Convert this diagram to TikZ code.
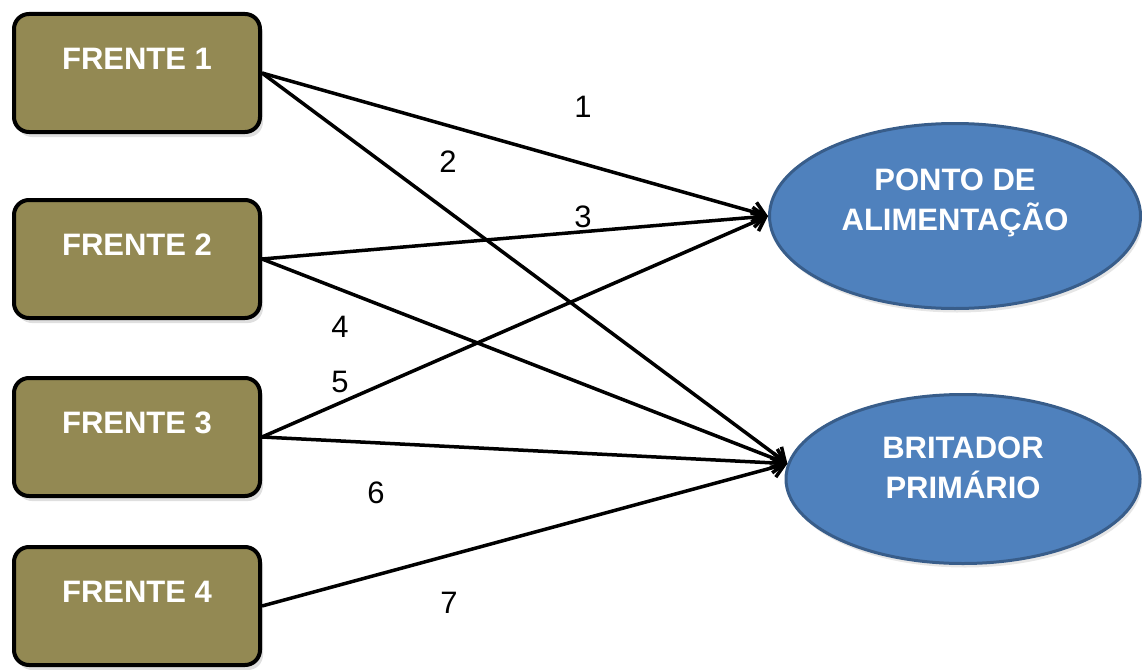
\documentclass[tikz,border=0pt]{standalone}
\usepackage{fontspec}
\setmainfont{Liberation Sans}
\usetikzlibrary{shapes.geometric,arrows.meta,shadows}
\definecolor{oliva}{RGB}{147,137,83}
\definecolor{azul}{RGB}{79,129,189}
\definecolor{azulborda}{RGB}{56,93,138}

\begin{document}
\begin{tikzpicture}[x=1pt,y=-1pt]
\tikzstyle{frente}=[rectangle,rounded corners=15pt,draw=black,line width=4pt,fill=oliva,minimum width=246pt,minimum height=118pt,inner sep=0pt,drop shadow={shadow xshift=3pt,shadow yshift=-5pt,opacity=0.25}]
\tikzstyle{destino}=[ellipse,draw=azulborda,line width=3pt,fill=azul,inner sep=0pt,drop shadow={shadow xshift=2pt,shadow yshift=-4pt,opacity=0.2}]
\tikzstyle{rotulo}=[text=white,font=\bfseries\fontsize{31}{40}\selectfont,align=center]
\tikzstyle{numero}=[font=\fontsize{31}{36}\selectfont]
\tikzstyle{seta}=[line width=3.5pt,-{Straight Barb[length=12pt,width=20pt]}]

\useasboundingbox (0,0) rectangle (1142,669);

%frentes on the left
\node[frente,label={[rotulo,yshift=14pt]center:FRENTE 1}] (f1) at (137,73) {};
\node[frente,label={[rotulo,yshift=14pt]center:FRENTE 2}] (f2) at (137,259) {};
\node[frente,label={[rotulo,yshift=14pt]center:FRENTE 3}] (f3) at (137,437) {};
\node[frente,label={[rotulo,yshift=14pt]center:FRENTE 4}] (f4) at (137,606) {};

%blue ellipses on the right
\node[destino,minimum width=371pt,minimum height=185pt,label={[rotulo,yshift=13pt]center:PONTO DE\\ALIMENTAÇÃO}] (ponto) at (955,216) {};
\node[destino,minimum width=354pt,minimum height=169pt,label={[rotulo,yshift=11pt]center:BRITADOR\\PRIMÁRIO}] (brit) at (963,479) {};

%arrows
\draw[seta] (f1.east) -- (ponto.west);
\draw[seta] (f1.east) -- (brit.175);
\draw[seta] (f2.east) -- (ponto.west);
\draw[seta] (f2.east) -- (brit.175);
\draw[seta] (f3.east) -- (ponto.west);
\draw[seta] (f3.east) -- (brit.175);
\draw[seta] (f4.east) -- (brit.175);

%numbers of the routes
\node[numero] (n1) at (583,107) {1};
\node[numero] (n2) at (448,162) {2};
\node[numero] (n3) at (583,217) {3};
\node[numero] (n4) at (340,327) {4};
\node[numero] (n5) at (340,382) {5};
\node[numero] (n6) at (376,493) {6};
\node[numero] (n7) at (449,603) {7};
\end{tikzpicture}
\end{document}
